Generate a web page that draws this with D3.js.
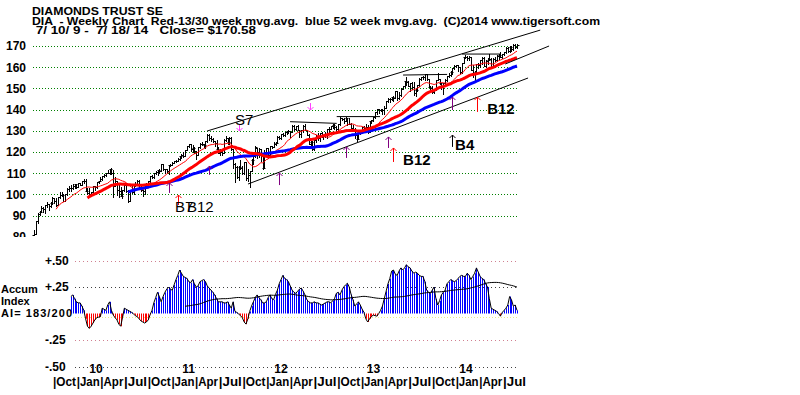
<!DOCTYPE html>
<html>
<head>
<meta charset="utf-8">
<script src="https://cdn.jsdelivr.net/npm/d3@7"></script>
<style>
  body { margin: 0; background: #fff; }
  text { font-family: Arial, "Liberation Sans", sans-serif; }
  .pre { white-space: pre; }
</style>
</head>
<body>
<svg id="chart" width="800" height="395"></svg>
<script>
// weekly DIA bars, first week ending 7/10/09, last 7/18/14
const closes = [
  81.5, 87.4, 90.9, 91.7, 93.7, 93.2, 95.0, 95.4, 94.4, 96.0,
  98.2, 96.7, 94.9, 98.6, 99.9, 99.7, 97.1, 100.2, 102.7, 103.2,
  103.1, 103.9, 104.7, 103.3, 105.2, 104.3, 106.2, 106.1, 101.7, 100.7,
  100.1, 101.0, 104.0, 103.3, 105.7, 106.3, 107.4, 108.5, 109.3, 110.0,
  110.2, 112.0, 110.1, 103.8, 106.2, 101.9, 101.4, 99.3, 102.1, 104.5,
  101.4, 96.9, 102.0, 101.0, 104.2, 104.7, 106.5, 103.0, 102.1, 101.5,
  104.5, 104.6, 106.1, 108.6, 108.3, 110.1, 110.6, 111.3, 111.2, 114.4,
  111.9, 112.0, 110.9, 113.8, 114.1, 114.9, 115.7, 115.8, 116.7, 117.9,
  118.7, 118.2, 120.9, 122.7, 123.9, 121.3, 121.7, 120.4, 118.6, 122.2,
  123.8, 123.8, 123.4, 125.1, 128.1, 126.4, 126.0, 125.1, 124.4, 121.5,
  119.5, 120.0, 119.3, 125.8, 126.6, 124.8, 126.8, 121.4, 114.4, 112.7,
  108.2, 112.8, 112.4, 109.9, 115.1, 107.7, 109.1, 111.0, 116.4, 118.1,
  122.3, 119.8, 121.5, 118.0, 112.3, 120.2, 121.8, 118.7, 122.9, 122.2,
  123.6, 124.2, 127.2, 126.6, 128.6, 128.0, 129.5, 129.8, 129.8, 129.2,
  132.3, 130.8, 132.1, 130.6, 128.5, 130.3, 132.3, 130.4, 128.2, 123.7,
  124.5, 121.2, 125.5, 127.7, 126.4, 128.8, 127.7, 127.8, 128.2, 130.8,
  131.0, 132.1, 132.8, 131.6, 130.9, 133.1, 135.9, 135.8, 134.4, 136.1,
  133.3, 133.4, 131.1, 130.9, 128.2, 125.9, 130.1, 130.3, 131.6, 131.4,
  131.9, 129.4, 134.4, 134.9, 136.5, 139.0, 140.1, 139.9, 139.8, 140.0,
  140.9, 144.0, 145.1, 145.1, 145.8, 145.7, 148.7, 145.5, 147.1, 149.7,
  151.2, 153.5, 153.0, 151.2, 152.5, 150.7, 148.0, 149.1, 151.4, 154.6,
  155.4, 155.6, 156.6, 154.3, 150.8, 150.1, 148.1, 149.2, 153.8, 154.5,
  152.6, 150.7, 152.4, 154.0, 155.7, 156.2, 157.6, 159.6, 160.6, 160.9,
  160.2, 157.6, 162.2, 164.8, 164.7, 164.4, 164.6, 158.8, 157.0, 157.9,
  161.5, 161.0, 163.2, 164.5, 160.7, 163.0, 163.2, 164.1, 160.3, 164.1,
  163.6, 165.1, 165.8, 164.9, 166.1, 167.2, 169.2, 167.8, 169.5, 168.5,
  170.7, 169.4, 170.58
];
const highs = [
  83.2, 87.6, 91.1, 92.4, 94.4, 94.0, 95.1, 96.3, 95.5, 96.3,
  98.9, 98.3, 98.3, 98.9, 100.9, 100.9, 100.4, 100.4, 103.0, 104.0,
  104.5, 105.1, 105.0, 105.0, 105.3, 105.5, 106.5, 107.3, 107.3, 103.1,
  102.8, 101.2, 104.1, 104.1, 105.8, 106.5, 108.0, 108.9, 109.6, 110.0,
  111.5, 112.1, 112.6, 111.5, 108.3, 106.5, 104.3, 103.5, 102.3, 104.8,
  104.5, 102.1, 102.0, 103.8, 104.5, 106.0, 106.9, 106.6, 104.5, 102.2,
  104.7, 105.2, 106.4, 108.7, 109.2, 110.2, 111.1, 111.6, 112.2, 114.5,
  114.5, 112.2, 112.1, 114.1, 114.5, 115.1, 115.9, 116.1, 117.4, 118.0,
  118.9, 120.0, 121.0, 122.8, 124.0, 123.9, 123.4, 122.2, 120.7, 122.3,
  124.2, 124.5, 124.0, 125.2, 128.3, 128.7, 127.6, 126.5, 125.1, 125.7,
  122.2, 121.2, 121.1, 125.9, 127.5, 126.5, 127.2, 127.0, 121.5, 115.0,
  113.4, 113.5, 116.1, 113.2, 115.1, 115.5, 111.9, 111.2, 116.5, 118.1,
  122.8, 121.9, 122.0, 121.4, 117.9, 120.8, 122.0, 121.9, 123.0, 123.0,
  124.5, 124.6, 127.5, 127.6, 128.7, 129.1, 129.6, 130.1, 130.6, 129.8,
  132.9, 132.6, 132.2, 132.8, 130.6, 130.6, 132.6, 133.0, 130.2, 128.3,
  125.2, 125.3, 125.7, 127.9, 128.9, 128.8, 129.4, 127.8, 129.6, 130.9,
  131.6, 132.2, 133.3, 133.3, 132.2, 133.1, 136.5, 136.2, 135.9, 136.6,
  136.1, 135.9, 133.5, 132.9, 131.1, 128.3, 130.2, 130.5, 131.6, 132.5,
  133.3, 132.7, 134.7, 135.0, 136.5, 139.1, 140.2, 140.2, 140.2, 140.2,
  141.5, 144.0, 145.4, 145.5, 145.9, 146.2, 148.9, 148.7, 148.2, 150.1,
  151.3, 153.6, 155.4, 153.4, 152.6, 153.2, 153.2, 150.0, 151.6, 154.7,
  155.4, 155.9, 156.8, 156.6, 154.4, 151.0, 150.9, 149.8, 153.9, 157.1,
  154.6, 152.6, 152.5, 154.2, 156.0, 157.1, 158.0, 159.7, 161.0, 161.2,
  161.1, 160.3, 162.2, 164.9, 165.9, 165.5, 165.2, 164.6, 160.9, 158.0,
  161.6, 161.8, 163.5, 165.0, 164.6, 163.4, 164.2, 166.3, 164.2, 164.3,
  164.9, 165.6, 166.1, 167.4, 166.3, 167.3, 169.3, 169.3, 169.9, 169.8,
  170.8, 170.8, 171.0
];
const lows = [
  80.9, 81.4, 86.5, 90.3, 91.5, 91.6, 91.4, 94.2, 92.5, 94.2,
  95.6, 96.0, 94.3, 94.8, 98.5, 99.1, 97.0, 96.8, 99.9, 101.7,
  101.4, 102.5, 102.9, 102.8, 103.3, 104.2, 104.2, 105.5, 101.5, 100.3,
  98.7, 99.8, 100.8, 101.9, 103.2, 105.3, 106.1, 106.9, 108.4, 108.7,
  109.9, 109.8, 109.8, 98.7, 103.8, 99.9, 98.9, 99.2, 98.2, 101.6,
  101.0, 96.2, 96.9, 100.6, 100.1, 103.9, 104.5, 102.5, 101.8, 99.4,
  100.0, 103.4, 104.5, 105.9, 107.6, 107.6, 109.4, 109.3, 110.3, 110.9,
  111.6, 110.3, 109.9, 109.8, 113.4, 113.7, 114.7, 115.2, 115.6, 116.1,
  117.3, 117.8, 118.0, 120.8, 122.2, 120.3, 120.2, 119.3, 116.9, 118.6,
  121.9, 123.2, 122.5, 121.8, 124.8, 125.5, 125.1, 124.7, 123.0, 121.4,
  119.3, 118.6, 118.7, 119.3, 125.4, 123.9, 123.9, 121.1, 112.5, 105.9,
  107.9, 106.7, 112.0, 109.8, 109.8, 107.0, 106.5, 103.6, 110.9, 114.5,
  117.7, 117.1, 117.5, 115.7, 112.1, 112.3, 118.5, 117.9, 118.7, 121.8,
  122.2, 123.5, 124.2, 125.9, 125.9, 127.5, 127.5, 128.6, 128.9, 127.1,
  129.2, 130.4, 130.2, 130.3, 127.1, 127.2, 129.2, 130.3, 127.9, 123.6,
  123.0, 121.0, 120.9, 124.6, 125.5, 125.0, 127.2, 125.9, 127.0, 126.8,
  129.0, 130.7, 131.5, 130.9, 130.0, 129.8, 132.9, 135.3, 133.8, 134.4,
  132.8, 133.0, 129.9, 130.3, 126.8, 125.4, 125.9, 128.4, 129.4, 131.2,
  130.9, 129.0, 129.6, 133.6, 134.4, 136.1, 137.9, 138.6, 139.2, 137.8,
  137.9, 140.6, 143.8, 143.8, 144.4, 144.2, 145.5, 144.4, 145.1, 146.6,
  149.5, 150.6, 151.8, 151.1, 148.8, 149.9, 146.9, 146.6, 148.6, 150.9,
  154.0, 154.2, 153.8, 153.8, 150.6, 149.2, 147.9, 147.8, 149.2, 153.8,
  152.3, 149.9, 147.2, 151.3, 153.6, 155.2, 155.7, 156.9, 159.2, 159.9,
  158.2, 157.4, 157.5, 162.1, 164.4, 163.5, 163.5, 158.7, 155.6, 153.4,
  157.9, 159.6, 160.3, 161.7, 160.4, 160.2, 161.6, 163.2, 160.0, 160.3,
  163.0, 162.9, 164.1, 164.6, 164.5, 165.9, 166.7, 167.1, 167.4, 167.5,
  168.3, 168.9, 168.9
];

// accumulation index, one value per week starting at week 20
const aiStart = 20;
const accum = [
  0.16, 0.175, 0.14, 0.11, 0.10, 0.10, 0.07, 0.03, -0.05, -0.12,
  -0.14, -0.12, -0.09, -0.06, -0.04, -0.035, -0.03, 0.05, 0.04, 0.03,
  0.08, 0.11, 0.03, -0.015, -0.04, -0.06, -0.10, -0.12, -0.04, 0.05,
  0.04, 0.03, 0.02, 0.01, -0.005, -0.02, -0.03, -0.05, -0.07, -0.08,
  -0.09, -0.08, -0.06, -0.01, 0.03, 0.10, 0.15, 0.20, 0.16, 0.11,
  0.16, 0.20, 0.23, 0.25, 0.23, 0.22, 0.27, 0.32, 0.36, 0.41,
  0.38, 0.35, 0.34, 0.33, 0.30, 0.29, 0.32, 0.28, 0.25, 0.26,
  0.30, 0.31, 0.32, 0.30, 0.26, 0.24, 0.22, 0.20, 0.175, 0.14,
  0.11, 0.11, 0.11, 0.10, 0.10, 0.11, 0.08, 0.05, 0.11, 0.02,
  0.01, -0.005, -0.02, -0.04, -0.08, -0.10, -0.05, 0.02, 0.07, 0.11,
  0.15, 0.175, 0.15, 0.13, 0.10, 0.10, 0.11, 0.15, 0.175, 0.14,
  0.13, 0.18, 0.22, 0.28, 0.32, 0.36, 0.33, 0.32, 0.30, 0.26,
  0.22, 0.20, 0.19, 0.21, 0.23, 0.24, 0.21, 0.175, 0.13, 0.11,
  0.10, 0.10, 0.11, 0.10, 0.10, 0.09, 0.08, 0.09, 0.10, 0.11,
  0.11, 0.10, 0.12, 0.14, 0.19, 0.20, 0.175, 0.22, 0.25, 0.27,
  0.285, 0.25, 0.18, 0.13, 0.07, 0.09, 0.11, 0.08, 0.04, 0.01,
  -0.05, -0.08, -0.05, -0.03, -0.015, -0.02, -0.025, 0.0, 0.03, 0.07,
  0.14, 0.21, 0.28, 0.33, 0.40, 0.41, 0.37, 0.36, 0.40, 0.43,
  0.41, 0.43, 0.46, 0.44, 0.43, 0.40, 0.38, 0.39, 0.38, 0.36,
  0.35, 0.35, 0.30, 0.22, 0.20, 0.19, 0.22, 0.25, 0.14, 0.08,
  0.12, 0.175, 0.20, 0.22, 0.28, 0.30, 0.32, 0.31, 0.30, 0.31,
  0.33, 0.35, 0.36, 0.35, 0.35, 0.38, 0.36, 0.32, 0.35, 0.38,
  0.43, 0.39, 0.35, 0.33, 0.32, 0.28, 0.25, 0.14, 0.05, 0.04,
  0.03, 0.02, 0.0, -0.025, 0.01, 0.03, 0.05, 0.08, 0.16, 0.13,
  0.07, 0.08, 0.03
];

const priceTicks = [170, 160, 150, 140, 130, 120, 110, 100, 90, 80];
const aiTicks = [0.5, 0.25, -0.25, -0.5];
const aiTickLabels = ["+.50", "+.25", "-.25", "-.50"];
const quarterLabels = ["Oct", "Jan", "Apr", "Jul", "Oct", "Jan", "Apr", "Jul", "Oct", "Jan",
                       "Apr", "Jul", "Oct", "Jan", "Apr", "Jul", "Oct", "Jan", "Apr", "Jul"];
const yearLabels = ["10", "11", "12", "13", "14"];
const headerLines = [
  "DIAMONDS TRUST SE",
  "DIA  - Weekly Chart  Red-13/30 week mvg.avg.  blue 52 week mvg.avg.  (C)2014 www.tigersoft.com",
  " 7/ 10/ 9 -  7/ 18/ 14   Close= $170.58"
];
const aiTitleLines = ["Accum", "Index", "AI= 183/200"];

// trend lines and signals, in (week, price)
const trendLines = [
  [93.9, 129.9, 274.6, 177.5],
  [116.1, 104.9, 268.0, 154.9],
  [255.6, 161.5, 279.4, 170.0],
  [138.9, 134.3, 164.2, 133.5],
  [164.2, 136.7, 187.7, 136.7],
  [200.2, 156.3, 224.1, 156.6],
  [232.2, 166.2, 252.8, 166.2]
];
const arrows = [
  { w: 73.2, from: 100.7, to: 105.4, color: "#800080" },
  { w: 78.1, from: 95.0, to: 99.7, color: "#ff0000" },
  { w: 95.0, from: 109.2, to: 113.4, color: "#800080" },
  { w: 111.2, from: 132.7, to: 129.9, color: "#ff40ff" },
  { w: 133.0, from: 104.4, to: 110.1, color: "#800080" },
  { w: 149.8, from: 143.1, to: 139.8, color: "#ff40ff" },
  { w: 169.3, from: 117.2, to: 122.4, color: "#800080" },
  { w: 192.0, from: 121.9, to: 127.1, color: "#800080" },
  { w: 194.6, from: 115.3, to: 121.9, color: "#ff0000" },
  { w: 226.6, from: 139.8, to: 145.9, color: "#800080" },
  { w: 240.2, from: 138.9, to: 145.9, color: "#ff0000" },
  { w: 226.6, from: 122.4, to: 128.0, color: "#000000" }
];
const signalLabels = [
  { w: 76.5, p: 91.7, t: "B7", bold: false },
  { w: 83.0, p: 91.7, t: "B12", bold: false },
  { w: 109.0, p: 132.7, t: "S7", bold: false },
  { w: 200.2, p: 113.9, t: "B12", bold: true },
  { w: 245.8, p: 137.7, t: "B12", bold: true },
  { w: 228.4, p: 121.0, t: "B4", bold: true }
];

const svg = d3.select("#chart");
const x = d3.scaleLinear().domain([0, closes.length - 1]).range([34, 517]);
const y = d3.scaleLinear().domain([80, 170]).range([236.8, 46]);
const ya = d3.scaleLinear().domain([-0.5, 0.5]).range([366.5, 260.5]);
const crisp = v => Math.round(v) + 0.5;

function sma(arr, n) {
  return arr.map((v, i) => i < n - 1 ? null : d3.mean(arr.slice(i - n + 1, i + 1)));
}

// header
const headY = [15, 25, 34];
const headW = [131, 568, 224];
svg.append("g").attr("font-weight", "bold").attr("font-size", 10)
  .selectAll("text").data(headerLines).join("text")
  .attr("class", "pre").attr("xml:space", "preserve")
  .attr("x", 32).attr("y", (d, i) => headY[i])
  .attr("textLength", (d, i) => headW[i]).attr("lengthAdjust", "spacingAndGlyphs")
  .text(d => d);

// price panel
svg.append("defs").append("clipPath").attr("id", "pclip")
  .append("rect").attr("x", 0).attr("y", 0).attr("width", 800).attr("height", 237);
const price = svg.append("g").attr("clip-path", "url(#pclip)");

price.selectAll("line.grid").data(priceTicks).join("line")
  .attr("x1", 33).attr("x2", 519)
  .attr("y1", d => crisp(y(d))).attr("y2", d => crisp(y(d)))
  .attr("stroke", "#008000").attr("stroke-dasharray", "1,2");
price.selectAll("text.tick").data(priceTicks).join("text")
  .attr("x", 26).attr("y", d => y(d)).attr("dy", "0.36em")
  .attr("text-anchor", "end").attr("font-weight", "bold").attr("font-size", 12)
  .text(d => d);

const weeks = closes.map((c, i) => ({
  i, c, h: highs[i], l: lows[i],
  o: Math.min(Math.max(i ? closes[i - 1] : lows[i], lows[i]), highs[i])
}));
price.append("path")
  .attr("fill", "none").attr("stroke", "#000").attr("stroke-width", 1)
  .attr("d", weeks.map(d => {
    const bx = crisp(x(d.i));
    return `M${bx},${Math.round(y(d.h))}V${Math.round(y(d.l)) + 1}` +
      `M${bx - 2},${crisp(y(d.o))}H${bx}` +
      `M${bx},${crisp(y(d.c))}H${bx + 2}`;
  }).join(""));

const lineP = d3.line().defined(d => d.v != null).x(d => x(d.i)).y(d => y(d.v));
const ma13 = sma(closes, 13).map((v, i) => ({ i, v }));
const ma30 = sma(closes, 30).map((v, i) => ({ i, v }));
const ma52 = sma(closes, 52).map((v, i) => ({ i, v }));
price.append("path").datum(ma13).attr("fill", "none").attr("stroke", "#ff0000").attr("stroke-width", 1).attr("d", lineP);
price.append("path").datum(ma52).attr("fill", "none").attr("stroke", "#0000ff").attr("stroke-width", 3).attr("d", lineP);
price.append("path").datum(ma30).attr("fill", "none").attr("stroke", "#ff0000").attr("stroke-width", 3).attr("d", lineP);

// trend lines
price.selectAll("line.trend").data(trendLines).join("line")
  .attr("x1", d => x(d[0])).attr("y1", d => y(d[1]))
  .attr("x2", d => x(d[2])).attr("y2", d => y(d[3]))
  .attr("stroke", "#000").attr("stroke-width", 1);

// signal arrows
price.selectAll("path.arrow").data(arrows).join("path")
  .attr("fill", "none").attr("stroke-width", 1)
  .attr("stroke", d => d.color)
  .attr("d", d => {
    const ax = crisp(x(d.w));
    const y0 = y(d.from), y1 = y(d.to);
    const dir = y1 < y0 ? 1 : -1;
    return `M${ax},${y0}V${y1}M${ax - 3},${y1 + 3 * dir}L${ax},${y1}L${ax + 3},${y1 + 3 * dir}`;
  });
price.selectAll("text.sig").data(signalLabels).join("text")
  .attr("x", d => x(d.w)).attr("y", d => y(d.p))
  .attr("font-size", 15).attr("font-weight", d => d.bold ? "bold" : "normal")
  .text(d => d.t);

// accumulation index panel
const acc = svg.append("g");
acc.selectAll("line.agrid").data(aiTicks).join("line")
  .attr("x1", 75).attr("x2", 519)
  .attr("y1", d => crisp(ya(d))).attr("y2", d => crisp(ya(d)))
  .attr("stroke", (d, i) => i % 2 ? "#404040" : "#d08090")
  .attr("stroke-dasharray", "1,3");
acc.append("line")
  .attr("x1", 75).attr("x2", 519)
  .attr("y1", crisp(ya(-0.03))).attr("y2", crisp(ya(-0.03)))
  .attr("stroke", "#e8e890").attr("stroke-dasharray", "1,2");
acc.selectAll("text.atick").data(aiTicks).join("text")
  .attr("x", 45).attr("y", d => ya(d)).attr("dy", "0.36em")
  .attr("font-weight", "bold").attr("font-size", 12)
  .text((d, i) => aiTickLabels[i]);

const aiPts = accum.map((v, k) => ({ i: k + aiStart, v }));
acc.selectAll("line.abar").data(aiPts).join("line")
  .attr("x1", d => crisp(x(d.i))).attr("x2", d => crisp(x(d.i)))
  .attr("y1", ya(0)).attr("y2", d => ya(d.v))
  .attr("stroke", d => d.v >= 0 ? "#0000ff" : "#ff0000").attr("stroke-width", 1);
const lineA = d3.line().defined(d => d.v != null).x(d => x(d.i)).y(d => ya(d.v));
acc.append("path").datum(aiPts).attr("fill", "none").attr("stroke", "#000").attr("stroke-width", 1).attr("d", lineA);
const aiMa = sma(accum, 63).map((v, k) => ({ i: k + aiStart, v }));
acc.append("path").datum(aiMa).attr("fill", "none").attr("stroke", "#000").attr("stroke-width", 1).attr("d", lineA);

const aiTitleY = [293, 305, 317];
acc.append("g").attr("font-weight", "bold").attr("font-size", 11)
  .selectAll("text").data(aiTitleLines).join("text")
  .attr("x", 1).attr("y", (d, i) => aiTitleY[i])
  .attr("textLength", (d, i) => i === 2 ? 71 : null)
  .text(d => d);

// time axis
const qx = d3.scalePoint().domain(d3.range(quarterLabels.length)).range([53, 503]);
const yx = d3.scalePoint().domain(yearLabels).range([96, 466]);
const axis = svg.append("g").attr("font-weight", "bold").attr("font-size", 12);
axis.selectAll("text.yr").data(yearLabels).join("text")
  .attr("x", d => yx(d)).attr("y", 373).attr("text-anchor", "middle").text(d => d);
axis.selectAll("text.q").data(quarterLabels).join("text")
  .attr("x", (d, i) => qx(i)).attr("y", 386).attr("textLength", 23).attr("lengthAdjust", "spacingAndGlyphs")
  .text(d => "|" + d);
</script>
</body>
</html>
